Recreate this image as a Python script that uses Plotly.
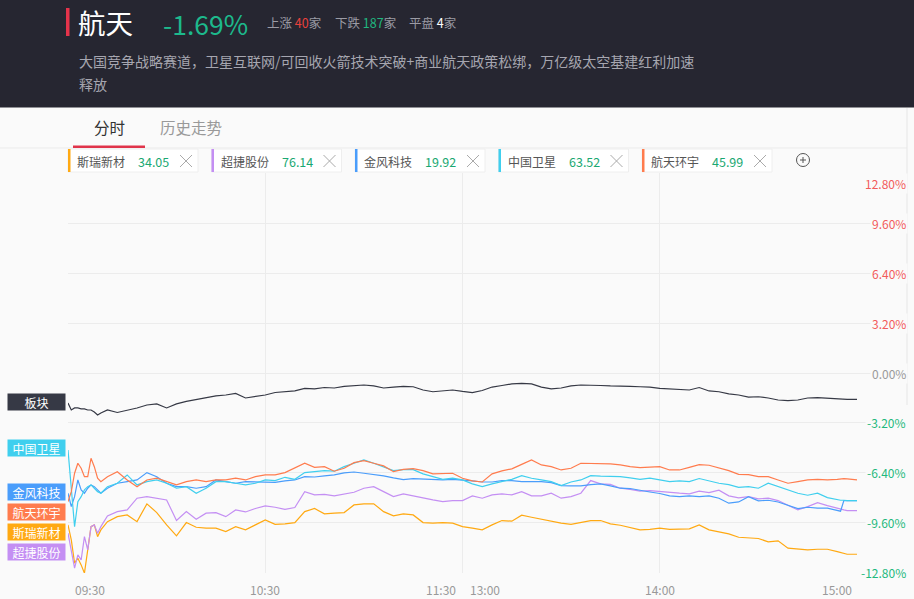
import plotly.graph_objects as go

# minutes since 09:30 (lunch break squeezed out, 240 = 15:00)
minutes = list(range(11)) + list(range(12, 235, 3)) + [235, 236, 237, 240]

board = [-1.92, -2.37, -2.24, -2.24, -2.30, -2.30, -2.37, -2.37, -2.50, -2.69, -2.56,
         -2.37, -2.53, -2.40, -2.24, -2.05, -1.98, -2.24, -1.98, -1.82, -1.70, -1.57, -1.47, -1.41, -1.31, -1.60, -1.50, -1.41,
         -1.25, -1.22, -1.15, -0.99, -1.02, -0.93, -0.96, -0.86, -0.83, -0.77, -0.83, -0.96, -0.90, -0.86, -0.88, -1.09, -1.20, -1.13, -1.09, -1.18,
         -1.25, -1.12, -0.90, -0.80, -0.70, -0.67, -0.70, -0.90, -1.02, -0.96, -0.83, -0.77, -0.77, -0.80, -0.83, -0.83, -0.86, -0.88, -0.90, -0.98,
         -1.02, -1.06, -1.09, -0.93, -1.15, -1.20, -1.34, -1.41, -1.54, -1.52, -1.60, -1.73, -1.77, -1.73, -1.60, -1.58, -1.62, -1.68,
         -1.68, -1.68, -1.69, -1.69]

hangtian = [-8.24, -7.60, -6.42, -5.78, -6.10, -6.64, -6.64, -5.46, -6.00, -6.74, -6.96,
            -6.64, -6.32, -6.85, -7.28, -6.85, -6.74, -6.96, -7.17, -6.96, -6.85, -6.96, -6.85, -6.85, -6.74, -6.85, -6.64, -6.53,
            -6.53, -6.38, -6.10, -5.78, -6.04, -6.00, -6.29, -6.10, -5.74, -5.61, -5.78, -5.95, -6.32, -6.17, -6.12, -6.25, -6.46, -6.42, -6.42, -6.74,
            -6.91, -6.98, -6.46, -6.27, -6.14, -5.85, -5.57, -5.89, -6.00, -6.21, -6.10, -5.78, -5.78, -5.78, -5.82, -5.89, -6.00, -6.06, -6.04, -6.00,
            -6.21, -6.21, -6.04, -5.87, -5.91, -6.06, -6.25, -6.49, -6.51, -6.64, -6.64, -6.85, -7.06, -6.96, -6.85, -6.81, -6.85, -6.81,
            -6.78, -6.76, -6.78, -6.85]

zhongguo = [-4.93, -7.38, -9.84, -8.24, -7.92, -7.49, -7.28, -7.17, -7.38, -7.60, -7.70,
            -7.28, -7.06, -6.53, -7.17, -6.96, -6.85, -7.06, -7.38, -7.28, -7.70, -7.38, -6.96, -6.96, -7.06, -7.17, -7.06, -6.85,
            -6.89, -6.68, -6.81, -6.38, -6.32, -6.25, -6.29, -6.00, -5.78, -5.57, -5.78, -6.00, -6.25, -6.19, -6.19, -6.46, -6.64, -6.81, -6.74, -6.85,
            -7.10, -7.28, -7.10, -6.96, -6.81, -6.57, -6.74, -6.85, -6.96, -7.21, -6.98, -6.85, -6.57, -6.61, -6.64, -6.64, -6.72, -6.81, -6.74, -6.85,
            -6.96, -6.91, -6.96, -6.76, -6.91, -7.06, -7.15, -7.32, -7.28, -7.38, -7.06, -7.28, -7.49, -7.70, -7.83, -7.70, -7.98, -8.13,
            -8.15, -8.15, -8.17, -8.17]

jinfeng = [-7.70, -8.56, -7.92, -6.85, -7.49, -7.70, -7.38, -7.17, -7.28, -7.49, -7.70,
           -7.38, -7.06, -6.96, -6.85, -6.38, -6.64, -7.06, -7.28, -7.28, -7.38, -7.28, -6.85, -6.96, -7.06, -6.96, -6.96, -6.96,
           -7.00, -6.91, -6.85, -6.64, -6.66, -6.59, -6.53, -6.40, -6.34, -6.42, -6.49, -6.59, -6.72, -6.83, -6.76, -6.78, -6.83, -6.85, -6.81, -6.85,
           -6.91, -6.98, -6.98, -6.89, -6.89, -6.96, -6.96, -6.96, -7.02, -7.21, -7.23, -7.23, -7.15, -7.10, -7.23, -7.38, -7.40, -7.49, -7.62, -7.72,
           -7.87, -7.92, -7.87, -7.92, -7.87, -8.02, -8.34, -8.26, -7.92, -8.19, -8.15, -8.26, -8.49, -8.68, -8.60, -8.66, -8.66, -8.77,
           -8.85, -8.17, -8.17, -8.17]

chaojie = [-10.26, -11.33, -12.50, -11.65, -11.97, -10.48, -11.33, -9.84, -9.73, -10.26, -9.84,
           -9.15, -8.88, -8.77, -8.02, -7.92, -8.02, -8.13, -9.45, -8.88, -9.37, -8.98, -8.94, -9.20, -8.77, -8.90, -8.68, -8.51,
           -8.60, -8.73, -8.62, -7.60, -7.81, -7.77, -7.87, -7.77, -7.64, -7.38, -7.28, -7.60, -7.92, -7.74, -7.85, -8.00, -8.13, -8.24, -8.17, -8.17,
           -7.87, -8.02, -7.81, -7.74, -7.81, -7.60, -7.87, -7.87, -7.70, -8.02, -7.92, -7.70, -6.89, -7.10, -7.13, -7.38, -7.45, -7.57, -7.53, -7.60,
           -7.66, -7.70, -7.74, -7.57, -7.66, -7.51, -7.87, -8.00, -7.92, -8.06, -8.02, -8.17, -8.47, -8.77, -8.56, -8.30, -8.49, -8.68,
           -8.73, -8.77, -8.81, -8.81]

sirui = [-9.73, -10.69, -12.18, -11.86, -12.29, -12.82, -11.33, -9.84, -9.73, -10.48, -10.05,
         -9.52, -9.20, -9.09, -9.52, -8.38, -8.94, -9.73, -10.43, -9.58, -9.88, -9.94, -9.94, -10.16, -9.84, -10.05, -9.73, -9.41,
         -9.69, -9.66, -9.58, -8.88, -8.68, -9.02, -8.98, -8.94, -8.45, -8.38, -8.38, -8.88, -9.15, -9.02, -9.09, -9.58, -9.62, -9.58, -9.62, -9.84,
         -9.94, -10.05, -9.73, -9.45, -9.49, -9.11, -9.24, -9.37, -9.52, -9.62, -9.69, -9.56, -9.45, -9.45, -9.66, -9.75, -9.92, -10.05, -10.01, -9.94,
         -10.01, -10.01, -9.98, -9.73, -10.05, -10.18, -10.30, -10.52, -10.58, -10.60, -10.82, -10.75, -11.22, -11.29, -11.33, -11.29, -11.29, -11.44,
         -11.50, -11.54, -11.61, -11.61]

stock_names = ['斯瑞新材', '超捷股份', '金风科技', '中国卫星', '航天环宇']
stock_prices = [34.05, 76.14, 19.92, 63.52, 45.99]
stock_colors = ['#ffa912', '#c48ff3', '#4a9dfb', '#40cfee', '#ff7c4e']
stock_values = [sirui, chaojie, jinfeng, zhongguo, hangtian]
board_color = '#363945'

y_ticks = [12.8, 9.6, 6.4, 3.2, 0.0, -3.2, -6.4, -9.6, -12.8]
time_ticks = [0, 60, 120, 120, 180, 240]
time_labels = ['09:30', '10:30', '11:30', '13:00', '14:00', '15:00']

up_count, down_count, flat_count = 40, 187, 4
sector_name = '航天'
sector_change = -1.69
desc1 = '大国竞争战略赛道，卫星互联网/可回收火箭技术突破+商业航天政策松绑，万亿级太空基建红利加速'
desc2 = '释放'

FONT = 'Noto Sans CJK SC'
W, H = 914, 599
L, R, T, B = 68, 7, 173, 26


def px(x):
    return (x - L) / (W - L - R)


def py(y):
    return (H - B - y) / (H - T - B)


fig = go.Figure()

# stock lines, drawn bottom-up so the orange one sits on top like the original
for name, vals, col in zip(stock_names, stock_values, stock_colors):
    fig.add_trace(go.Scatter(x=minutes, y=vals, mode='lines', name=name,
                             line=dict(color=col, width=1.2), hoverinfo='skip'))
fig.add_trace(go.Scatter(x=minutes, y=board, mode='lines', name='板块',
                         line=dict(color=board_color, width=1.2), hoverinfo='skip'))

shapes = []
ann = []

# dark header
shapes.append(dict(type='rect', xref='paper', yref='paper', x0=px(0), x1=px(W), y0=py(0), y1=py(107.5),
                   fillcolor='#262631', line=dict(width=0), layer='below'))
shapes.append(dict(type='rect', xref='paper', yref='paper', x0=px(66), x1=px(69.5), y0=py(8), y1=py(36),
                   fillcolor='#e5334b', line=dict(width=0)))
ann.append(dict(text=sector_name, x=px(76), y=py(22), font=dict(size=27.5, color='#ffffff')))
ann.append(dict(text=f'{sector_change:.2f}%', x=px(161), y=py(23), font=dict(size=26.5, color='#1db98c')))
ann.append(dict(text=f"上涨 <span style='color:#e8413c'>{up_count}</span>家", x=px(265), y=py(22),
                font=dict(size=12.5, color='#9b9ba5')))
ann.append(dict(text=f"下跌 <span style='color:#20b77f'>{down_count}</span>家", x=px(333), y=py(22),
                font=dict(size=12.5, color='#9b9ba5')))
ann.append(dict(text=f"平盘 <span style='color:#ffffff'>{flat_count}</span>家", x=px(407), y=py(22),
                font=dict(size=12.5, color='#9b9ba5')))
ann.append(dict(text=desc1, x=px(77), y=py(61), font=dict(size=14, color='#a6a6b0')))
ann.append(dict(text=desc2, x=px(77), y=py(84), font=dict(size=14, color='#a6a6b0')))

# tabs
ann.append(dict(text='分时', x=px(92), y=py(127), font=dict(size=15.5, color='#333333')))
ann.append(dict(text='历史走势', x=px(158), y=py(127), font=dict(size=15.5, color='#999999')))
shapes.append(dict(type='line', xref='paper', yref='paper', x0=px(0), x1=px(907), y0=py(148), y1=py(148),
                   line=dict(color='#ebebeb', width=1)))
shapes.append(dict(type='rect', xref='paper', yref='paper', x0=px(73), x1=px(145), y0=py(145.5), y1=py(148),
                   fillcolor='#e0344a', line=dict(width=0)))
shapes.append(dict(type='line', xref='paper', yref='paper', x0=px(907), x1=px(907), y0=py(108), y1=py(405),
                   line=dict(color='#e6e6e6', width=1)))

# stock chips
for i, (name, price, col) in enumerate(zip(stock_names, stock_prices, stock_colors)):
    x0 = 68 + i * 143.5
    shapes.append(dict(type='rect', xref='paper', yref='paper', x0=px(x0), x1=px(x0 + 130), y0=py(149), y1=py(172),
                       fillcolor='#ffffff', line=dict(color='#eeeeee', width=1)))
    shapes.append(dict(type='rect', xref='paper', yref='paper', x0=px(x0), x1=px(x0 + 2.5), y0=py(149), y1=py(172),
                       fillcolor=col, line=dict(width=0)))
    ann.append(dict(text=name, x=px(x0 + 7), y=py(161), font=dict(size=12, color='#555555')))
    ann.append(dict(text=f'{price:.2f}', x=px(x0 + 68), y=py(161), font=dict(size=12.5, color='#1aa872')))
    cx = x0 + 118
    for a, b in [(-6, 6), (6, -6)]:
        shapes.append(dict(type='line', xref='paper', yref='paper', x0=px(cx + a), x1=px(cx + b),
                           y0=py(155), y1=py(167), line=dict(color='#aaaaaa', width=1)))

# add button
shapes.append(dict(type='circle', xref='paper', yref='paper', x0=px(796.5), x1=px(809.5), y0=py(153.5), y1=py(166.5),
                   line=dict(color='#555555', width=1)))
shapes.append(dict(type='line', xref='paper', yref='paper', x0=px(800), x1=px(806), y0=py(160), y1=py(160),
                   line=dict(color='#555555', width=1)))
shapes.append(dict(type='line', xref='paper', yref='paper', x0=px(803), x1=px(803), y0=py(157), y1=py(163),
                   line=dict(color='#555555', width=1)))

# right axis labels
for v in y_ticks:
    if v > 0:
        c = '#f25b5b'
    elif v < 0:
        c = '#1fb97d'
    else:
        c = '#999999'
    ann.append(dict(text=f'{v:.2f}%', xref='paper', x=px(908), xanchor='right', yref='y', y=v,
                    yshift=-10 if v == max(y_ticks) else 0, bgcolor='#fafafa',
                    font=dict(size=12, color=c)))

# time labels
anchors = ['left', 'center', 'right', 'left', 'center', 'right']
shifts = [5, 0, -5, 5, 0, -3]
for t, lab, anc, sh in zip(time_ticks, time_labels, anchors, shifts):
    ann.append(dict(text=lab, xref='x', x=t, xanchor=anc, xshift=sh, y=py(589),
                    font=dict(size=12, color='#999999')))

# left tags
tags = [('板块', board_color, 402), ('中国卫星', stock_colors[3], 448), ('金风科技', stock_colors[2], 492),
        ('航天环宇', stock_colors[4], 512), ('斯瑞新材', stock_colors[0], 532), ('超捷股份', stock_colors[1], 552)]
for name, col, yc in tags:
    ann.append(dict(text=name, x=px(36.5), xanchor='center', y=py(yc), bgcolor=col, width=57, height=16,
                    borderpad=0, font=dict(size=12, color='#ffffff')))

for a in ann:
    a.setdefault('xref', 'paper')
    a.setdefault('yref', 'paper')
    a.setdefault('xanchor', 'left')
    a.setdefault('yanchor', 'middle')
    a['showarrow'] = False

fig.update_layout(
    width=W, height=H,
    margin=dict(l=L, r=R, t=T, b=B),
    paper_bgcolor='#fafafa', plot_bgcolor='#fafafa',
    font=dict(family=FONT),
    showlegend=False,
    shapes=shapes,
    annotations=ann,
    xaxis=dict(range=[0, 240 * (W - L - R) / 789], tickvals=[60, 120, 180], showticklabels=False,
               showgrid=True, gridcolor='#ececec', gridwidth=1, zeroline=False, fixedrange=True),
    yaxis=dict(range=[-12.81, 12.81], tickvals=y_ticks, showticklabels=False,
               showgrid=True, gridcolor='#ececec', gridwidth=1, zeroline=False, fixedrange=True),
)

# the page body has a default 8px margin, drop it so the figure fills the window
fig.write_html('out.html', config={'displayModeBar': False},
               post_script="document.body.style.margin='0';document.body.style.overflow='hidden';")
